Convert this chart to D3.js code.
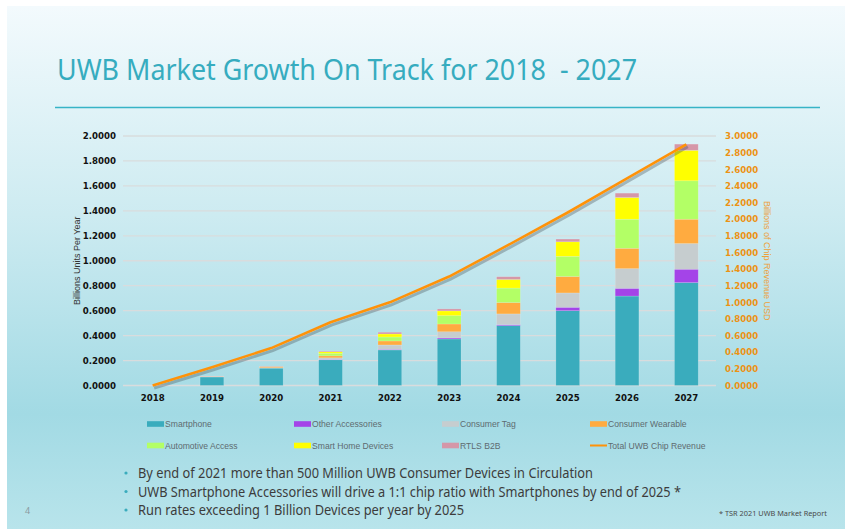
<!DOCTYPE html>
<html>
<head>
<meta charset="utf-8">
<script src="https://cdn.jsdelivr.net/npm/d3@7"></script>
<style>
  body { margin: 0; background: #ffffff; }
  svg { display: block; }
  .tick text { font-family: "DejaVu Sans", sans-serif; font-weight: bold; font-size: 8.6px; }
  .legendtxt { font-family: "Liberation Sans", sans-serif; font-size: 8.6px; fill: #5e6b70; }
</style>
</head>
<body>
<div id="slide"></div>
<script>
// Chart data
var years = ["2018", "2019", "2020", "2021", "2022", "2023", "2024", "2025", "2026", "2027"];

var seriesNames = ["Smartphone", "Other Accessories", "Consumer Tag", "Consumer Wearable",
                   "Automotive Access", "Smart Home Devices", "RTLS B2B"];
var seriesColors = ["#3aacbd", "#a444e8", "#c6cdcf", "#ffab40", "#b3ff66", "#ffff00", "#d597a8"];

// billions of units per year, one array per series
var smartphone       = [0, 0.068, 0.139, 0.206, 0.285, 0.373, 0.480, 0.600, 0.717, 0.825];
var otherAccessories = [0, 0.000, 0.000, 0.004, 0.005, 0.008, 0.008, 0.027, 0.062, 0.107];
var consumerTag      = [0, 0.003, 0.004, 0.012, 0.035, 0.050, 0.086, 0.115, 0.158, 0.206];
var consumerWearable = [0, 0.002, 0.008, 0.016, 0.032, 0.062, 0.091, 0.132, 0.163, 0.195];
var automotiveAccess = [0, 0.000, 0.000, 0.020, 0.032, 0.067, 0.116, 0.161, 0.233, 0.308];
var smartHome        = [0, 0.000, 0.000, 0.012, 0.024, 0.038, 0.069, 0.117, 0.174, 0.244];
var rtlsB2B          = [0, 0.002, 0.002, 0.006, 0.014, 0.016, 0.022, 0.022, 0.035, 0.050];

// billions of USD, right axis
var chipRevenue = [0, 0.22, 0.45, 0.76, 1.00, 1.31, 1.69, 2.08, 2.49, 2.90];

var leftTicks = [0, 0.2, 0.4, 0.6, 0.8, 1.0, 1.2, 1.4, 1.6, 1.8, 2.0];
var rightTicks = [0, 0.2, 0.4, 0.6, 0.8, 1.0, 1.2, 1.4, 1.6, 1.8, 2.0, 2.2, 2.4, 2.6, 2.8, 3.0];

var bullets = [
    "By end of 2021 more than 500 Million UWB Consumer Devices in Circulation",
    "UWB Smartphone Accessories will drive a 1:1 chip ratio with Smartphones by end of 2025 *",
    "Run rates exceeding 1 Billion Devices per year by 2025"
];

// Global variables
var W = 845, H = 529,
    plot = { left: 123, right: 716, top: 136, bottom: 385.5 };

var svg = d3.select("#slide").append("svg")
    .attr("width", W)
    .attr("height", H);

// Build table for stacking
var table = years.map(function (y, i) {
    return {
        year: y,
        "Smartphone": smartphone[i],
        "Other Accessories": otherAccessories[i],
        "Consumer Tag": consumerTag[i],
        "Consumer Wearable": consumerWearable[i],
        "Automotive Access": automotiveAccess[i],
        "Smart Home Devices": smartHome[i],
        "RTLS B2B": rtlsB2B[i]
    };
});

// Scales
var xScale = d3.scaleBand().domain(years).range([plot.left, plot.right]).paddingInner(0.6).paddingOuter(0.3),
    yScale = d3.scaleLinear().domain([0, 2]).range([plot.bottom, plot.top]),
    y2Scale = d3.scaleLinear().domain([0, 3]).range([plot.bottom, plot.top]),
    colour = d3.scaleOrdinal().domain(seriesNames).range(seriesColors);

drawBackground();
drawTitle();
drawAxes();
drawBars();
drawLine();
drawLegend();
drawBullets();


// Slide background with gradient and title rule
function drawBackground() {
    var grad = svg.append("defs").append("linearGradient")
        .attr("id", "bg")
        .attr("x1", 0).attr("y1", 0).attr("x2", 0).attr("y2", 1);
    grad.append("stop").attr("offset", "0%").attr("stop-color", "#f3fafd");
    grad.append("stop").attr("offset", "40%").attr("stop-color", "#cdebf1");
    grad.append("stop").attr("offset", "78%").attr("stop-color", "#a2dae4");
    grad.append("stop").attr("offset", "100%").attr("stop-color", "#b8e4eb");

    svg.append("rect")
        .attr("x", 7).attr("y", 6)
        .attr("width", W - 7).attr("height", H - 6)
        .attr("fill", "url(#bg)");
}

function drawTitle() {
    svg.append("text")
        .attr("x", 57)
        .attr("y", 80)
        .attr("font-family", "Noto Sans, sans-serif")
        .attr("font-size", 29)
        .attr("fill", "#36acbf")
        .style("white-space", "pre")
        .attr("textLength", 580)
        .attr("lengthAdjust", "spacingAndGlyphs")
        .text("UWB Market Growth On Track for 2018  - 2027");

    svg.append("line")
        .attr("x1", 55).attr("x2", 820)
        .attr("y1", 107.5).attr("y2", 107.5)
        .attr("stroke", "#37b4c6")
        .attr("stroke-width", 1.3);
}

// Gridlines plus left, right and bottom axes
function drawAxes() {
    svg.append("g")
        .selectAll("line")
        .data(leftTicks)
        .enter().append("line")
        .attr("x1", plot.left).attr("x2", plot.right)
        .attr("y1", function (d) { return yScale(d); })
        .attr("y2", function (d) { return yScale(d); })
        .attr("stroke", "#d9dcdd")
        .attr("stroke-width", 1.3);

    var yAxis = d3.axisLeft(yScale).tickValues(leftTicks).tickFormat(d3.format(".4f")).tickSize(0).tickPadding(7);
    var gy = svg.append("g")
        .attr("transform", "translate(" + plot.left + ",0)")
        .call(yAxis);
    gy.select(".domain").remove();
    gy.selectAll("text").attr("fill", "#111");

    var y2Axis = d3.axisRight(y2Scale).tickValues(rightTicks).tickFormat(d3.format(".4f")).tickSize(0).tickPadding(9);
    var gy2 = svg.append("g")
        .attr("transform", "translate(" + plot.right + ",0)")
        .call(y2Axis);
    gy2.select(".domain").remove();
    gy2.selectAll("text").attr("fill", "#ec9214");

    var xAxis = d3.axisBottom(xScale).tickSize(0).tickPadding(9);
    var gx = svg.append("g")
        .attr("transform", "translate(0," + plot.bottom + ")")
        .call(xAxis);
    gx.select(".domain").remove();
    gx.selectAll("text").attr("fill", "#111");

    // axis labels
    svg.append("text")
        .attr("transform", "translate(80," + ((plot.top + plot.bottom) / 2) + ") rotate(-90)")
        .attr("text-anchor", "middle")
        .attr("font-family", "Liberation Sans, sans-serif")
        .attr("font-size", 9)
        .attr("fill", "#333")
        .text("Billions Units Per Year");

    svg.append("text")
        .attr("transform", "translate(764," + ((plot.top + plot.bottom) / 2) + ") rotate(90)")
        .attr("text-anchor", "middle")
        .attr("font-family", "Liberation Sans, sans-serif")
        .attr("font-size", 9)
        .attr("fill", "#eea03a")
        .text("Billions of Chip Revenue USD");
}

function drawBars() {
    var stack = d3.stack().keys(seriesNames)(table);

    svg.append("g")
        .selectAll("g")
        .data(stack)
        .enter().append("g")
        .attr("fill", function (d) { return colour(d.key); })
        .selectAll("rect")
        .data(function (d) { return d; })
        .enter().append("rect")
        .attr("x", function (d) { return xScale(d.data.year); })
        .attr("width", xScale.bandwidth())
        .attr("y", function (d) { return yScale(d[1]); })
        .attr("height", function (d) { return yScale(d[0]) - yScale(d[1]); })
        .attr("stroke", "rgba(255,255,255,0.25)")
        .attr("stroke-width", 0.6);
}

// Revenue line with a soft shadow
function drawLine() {
    var line = d3.line()
        .x(function (d, i) { return xScale(years[i]) + xScale.bandwidth() / 2; })
        .y(function (d) { return y2Scale(d); });

    svg.append("path")
        .datum(chipRevenue)
        .attr("d", line)
        .attr("transform", "translate(1.5,2.5)")
        .attr("fill", "none")
        .attr("stroke", "rgba(70,80,85,0.35)")
        .attr("stroke-width", 3);

    svg.append("path")
        .datum(chipRevenue)
        .attr("d", line)
        .attr("fill", "none")
        .attr("stroke", "#ff9208")
        .attr("stroke-width", 2.6)
        .attr("stroke-linejoin", "round");
}

function drawLegend() {
    var items = seriesNames.concat(["Total UWB Chip Revenue"]);
    var colX = [147, 294, 442, 590],
        rowY = [424, 445.5];

    var leg = svg.append("g")
        .selectAll("g")
        .data(items)
        .enter().append("g")
        .attr("transform", function (d, i) { return "translate(" + colX[i % 4] + "," + rowY[Math.floor(i / 4)] + ")"; });

    leg.append("rect")
        .attr("x", 0)
        .attr("y", function (d, i) { return i == 7 ? -1 : -2.8; })
        .attr("width", 17)
        .attr("height", function (d, i) { return i == 7 ? 2 : 5.6; })
        .attr("fill", function (d, i) { return i == 7 ? "#ff9208" : colour(d); });

    leg.append("text")
        .attr("class", "legendtxt")
        .attr("x", 18)
        .attr("dy", "0.35em")
        .text(function (d) { return d; });
}

function drawBullets() {
    var lens = [455, 543, 326];
    var g = svg.append("g");

    g.selectAll("circle")
        .data(bullets)
        .enter().append("circle")
        .attr("cx", 126)
        .attr("cy", function (d, i) { return 473 + i * 18.5; })
        .attr("r", 1.6)
        .attr("fill", "#3aacbd");

    g.selectAll("text")
        .data(bullets)
        .enter().append("text")
        .attr("x", 138)
        .attr("y", function (d, i) { return 478 + i * 18.5; })
        .attr("font-family", "Noto Sans, sans-serif")
        .attr("font-size", 13.5)
        .attr("fill", "#3c3c3c")
        .attr("textLength", function (d, i) { return lens[i]; })
        .attr("lengthAdjust", "spacingAndGlyphs")
        .text(function (d) { return d; });

    svg.append("text")
        .attr("x", 25).attr("y", 514)
        .attr("font-family", "Noto Sans, sans-serif")
        .attr("font-size", 9)
        .attr("fill", "#8a9a9e")
        .text("4");

    svg.append("text")
        .attr("x", 719).attr("y", 516)
        .attr("font-family", "Noto Sans, sans-serif")
        .attr("font-size", 6.5)
        .attr("fill", "#4a4a4a")
        .attr("textLength", 108)
        .attr("lengthAdjust", "spacingAndGlyphs")
        .text("* TSR 2021 UWB Market Report");
}
</script>
</body>
</html>
